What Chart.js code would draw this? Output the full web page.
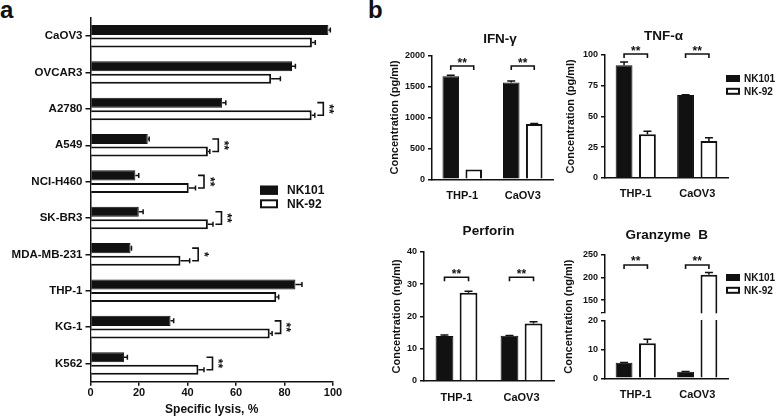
<!DOCTYPE html>
<html>
<head>
<meta charset="utf-8">
<script src="https://cdn.jsdelivr.net/npm/chart.js@4.4.0/dist/chart.umd.min.js"></script>
<style>
  html, body { margin: 0; padding: 0; background: #fff; }
  body { width: 778px; height: 419px; position: relative; overflow: hidden; font-family: 'Liberation Sans', Arial, sans-serif; }
  canvas { position: absolute; }
  .panel { position: absolute; top: -2px; font-size: 24px; font-weight: bold; line-height: 1; color: #111; }
</style>
</head>
<body>
<div class="panel" style="left:0">a</div>
<div class="panel" style="left:368px">b</div>
<canvas id="lysis"></canvas>
<canvas id="ifn"></canvas>
<canvas id="tnf"></canvas>
<canvas id="perforin"></canvas>
<canvas id="granzyme"></canvas>
<script>
const groups = ['NK101', 'NK-92'];

// a: specific lysis, %
const lysisCells = ['CaOV3', 'OVCAR3', 'A2780', 'A549', 'NCI-H460', 'SK-BR3', 'MDA-MB-231', 'THP-1', 'KG-1', 'K562'];
const lysisNK101 = [98.1, 83.1, 54.3, 23.6, 18.5, 19.9, 16.5, 84.5, 33.0, 13.8];
const lysisNK101Err = [0.8, 1.4, 1.5, 0.6, 1.4, 1.8, 0.4, 2.7, 1.3, 1.4];
const lysisNK92 = [91.3, 74.5, 91.2, 48.4, 40.5, 48.4, 37.1, 76.6, 73.9, 44.5];
const lysisNK92Err = [1.4, 3.8, 1.3, 0.8, 2.8, 2.1, 3.8, 1.0, 1.0, 2.3];
const lysisSig = ['', '', '**', '**', '**', '**', '*', '', '**', '**'];
const lysisTicks = [0, 20, 40, 60, 80, 100];

// b: cytokine release
const cytoCells = ['THP-1', 'CaOV3'];

const ifnNK101 = [1666, 1565];
const ifnNK101Err = [14, 25];
const ifnNK92 = [160, 892];
const ifnNK92Err = [0, 11];
const ifnSig = ['**', '**'];
const ifnSigLevel = [1830, 1830];
const ifnTicks = [0, 500, 1000, 1500, 2000];

const tnfNK101 = [91.6, 67.4];
const tnfNK101Err = [2.7, 0.3];
const tnfNK92 = [35.4, 29.9];
const tnfNK92Err = [2.4, 2.7];
const tnfSig = ['**', '**'];
const tnfSigLevel = [100.8, 100.8];
const tnfTicks = [0, 25, 50, 75, 100];

const perfNK101 = [13.9, 14.0];
const perfNK101Err = [0.3, 0.1];
const perfNK92 = [27.3, 17.8];
const perfNK92Err = [0.5, 0.5];
const perfSig = ['**', '**'];
const perfSigLevel = [32.1, 32.1];
const perfTicks = [0, 10, 20, 30, 40];

const grzNK101 = [5.4, 2.3];
const grzNK101Err = [0.1, 0.1];
const grzNK92 = [12.2, 206];
const grzNK92Err = [1.4, 5];
const grzSig = ['**', '**'];
const grzSigLevel = [228, 228];
const grzLowMax = 20;     // lower segment ends here
const grzHighMin = 123;   // upper segment starts here (axis break)
const grzTicks = [0, 10, 20, grzHighMin, 150, 200, 250];

const FAMILY = "'Liberation Sans', Arial, sans-serif";
const INK = '#111';
Chart.defaults.font.family = FAMILY;
Chart.defaults.font.weight = 'bold';
Chart.defaults.color = INK;

// linear scale with a gap between lowMax and highMin
class BrokenLinearScale extends Chart.LinearScale {
  static id = 'brokenLinear';
  static defaults = Chart.LinearScale.defaults;
  getPixelForValue(value) {
    const { low, high, gap } = this.options.brk;
    const seg = (1 - gap) / 2;
    let d;
    if (value <= low) d = (value - this.min) / (low - this.min) * seg;
    else if (value >= high) d = seg + gap + (value - high) / (this.max - high) * seg;
    else d = seg + (value - low) / (high - low) * gap;
    return this.getPixelForDecimal(d);
  }
  getValueForPixel(pixel) {
    const { low, high, gap } = this.options.brk;
    const seg = (1 - gap) / 2;
    const d = this.getDecimalForPixel(pixel);
    if (d <= seg) return this.min + d / seg * (low - this.min);
    if (d >= seg + gap) return high + (d - seg - gap) / seg * (this.max - high);
    return low + (d - seg) / gap * (high - low);
  }
}
Chart.register(BrokenLinearScale);

const errBars = {
  id: 'errBars',
  afterDatasetsDraw(chart, args, opts) {
    const ctx = chart.ctx;
    const horiz = chart.options.indexAxis === 'y';
    const vScale = horiz ? chart.scales.x : chart.scales.y;
    ctx.save();
    ctx.strokeStyle = INK;
    ctx.lineWidth = opts.width;
    chart.data.datasets.forEach((ds, di) => {
      chart.getDatasetMeta(di).data.forEach((el, i) => {
        const err = ds.errors[i];
        if (!err) return;
        const p0 = vScale.getPixelForValue(ds.data[i]);
        const p1 = vScale.getPixelForValue(ds.data[i] + err);
        ctx.beginPath();
        if (horiz) {
          ctx.moveTo(p0, el.y); ctx.lineTo(p1, el.y);
          ctx.moveTo(p1, el.y - opts.cap); ctx.lineTo(p1, el.y + opts.cap);
        } else {
          ctx.moveTo(el.x, p0); ctx.lineTo(el.x, p1);
          ctx.moveTo(el.x - opts.cap, p1); ctx.lineTo(el.x + opts.cap, p1);
        }
        ctx.stroke();
      });
    });
    ctx.restore();
  }
};

const sigMarks = {
  id: 'sigMarks',
  afterDatasetsDraw(chart, args, opts) {
    const ctx = chart.ctx;
    const horiz = chart.options.indexAxis === 'y';
    const [d0, d1] = chart.data.datasets;
    const m0 = chart.getDatasetMeta(0).data;
    const m1 = chart.getDatasetMeta(1).data;
    ctx.save();
    ctx.strokeStyle = INK;
    ctx.fillStyle = INK;
    ctx.lineWidth = 1.6;
    ctx.font = `bold ${opts.size}px ${FAMILY}`;
    ctx.textAlign = 'center';
    opts.marks.forEach((mark, i) => {
      if (!mark) return;
      if (horiz) {
        const xs = chart.scales.x;
        const tip = Math.max(xs.getPixelForValue(d0.data[i] + d0.errors[i]),
                             xs.getPixelForValue(d1.data[i] + d1.errors[i]));
        const xb = tip + opts.gap;
        const y0 = m0[i].y, y1 = m1[i].y;
        ctx.beginPath();
        ctx.moveTo(xb - opts.tick, y0); ctx.lineTo(xb, y0);
        ctx.lineTo(xb, y1); ctx.lineTo(xb - opts.tick, y1);
        ctx.stroke();
        ctx.save();
        ctx.translate(xb + opts.textGap, (y0 + y1) / 2);
        ctx.rotate(Math.PI / 2);
        ctx.textBaseline = 'middle';
        ctx.fillText(mark, 0, 0);
        ctx.restore();
      } else {
        const yb = chart.scales.y.getPixelForValue(opts.levels[i]);
        const x0 = m0[i].x, x1 = m1[i].x;
        ctx.beginPath();
        ctx.moveTo(x0, yb + opts.tick); ctx.lineTo(x0, yb);
        ctx.lineTo(x1, yb); ctx.lineTo(x1, yb + opts.tick);
        ctx.stroke();
        ctx.textBaseline = 'alphabetic';
        ctx.fillText(mark, (x0 + x1) / 2, yb + opts.textGap);
      }
    });
    ctx.restore();
  }
};

const boxLegend = {
  id: 'boxLegend',
  afterDraw(chart, args, opts) {
    const ctx = chart.ctx;
    ctx.save();
    ctx.font = `bold ${opts.size}px ${FAMILY}`;
    ctx.textAlign = 'left';
    ctx.textBaseline = 'middle';
    chart.data.datasets.forEach((ds, i) => {
      const y = opts.y + i * opts.step;
      const lw = Math.min(ds.borderWidth, 2);
      ctx.fillStyle = ds.backgroundColor;
      ctx.fillRect(opts.x, y, opts.w, opts.h);
      ctx.lineWidth = lw;
      ctx.strokeStyle = ds.borderColor;
      ctx.strokeRect(opts.x + lw / 2, y + lw / 2, opts.w - lw, opts.h - lw);
      ctx.fillStyle = INK;
      ctx.fillText(ds.label, opts.textX, y + opts.h / 2 + 0.5);
    });
    ctx.restore();
  }
};

const panelTitle = {
  id: 'panelTitle',
  afterDraw(chart, args, opts) {
    const ctx = chart.ctx;
    ctx.save();
    ctx.font = `bold ${opts.size}px ${FAMILY}`;
    ctx.fillStyle = INK;
    ctx.textAlign = 'center';
    ctx.textBaseline = 'middle';
    ctx.fillText(opts.text, opts.x, opts.y);
    ctx.restore();
  }
};

const axisBreak = {
  id: 'axisBreak',
  afterDatasetsDraw(chart, args, opts) {
    const ys = chart.scales.y;
    const a = chart.chartArea;
    const top = ys.getPixelForValue(opts.to) + 1;
    const bottom = ys.getPixelForValue(opts.from) - 1;
    chart.ctx.save();
    chart.ctx.fillStyle = '#fff';
    chart.ctx.fillRect(a.left - 3, top, a.right - a.left + 3, bottom - top);
    chart.ctx.restore();
  }
};

// place a canvas in page coords and work out the margins round its plot area
function frame(id, box, plot) {
  const cv = document.getElementById(id);
  cv.style.left = box[0] + 'px';
  cv.style.top = box[1] + 'px';
  cv.width = box[2];
  cv.height = box[3];
  cv.style.width = box[2] + 'px';
  cv.style.height = box[3] + 'px';
  return {
    cv, ox: box[0], oy: box[1],
    l: plot[0] - box[0], t: plot[1] - box[1],
    r: box[0] + box[2] - plot[2], b: box[1] + box[3] - plot[3]
  };
}

const axisGrid = (len) => ({ display: true, drawOnChartArea: false, tickLength: len, color: INK, lineWidth: 1.5, tickWidth: 1.5 });
const axisBorder = { display: true, color: INK, width: 1.5 };

// ---- panel a ----
const fa = frame('lysis', [0, 0, 372, 419], [90.5, 18, 333, 381.7]);
new Chart(fa.cv, {
  type: 'bar',
  data: {
    labels: lysisCells,
    datasets: [
      { label: groups[0], data: lysisNK101, errors: lysisNK101Err, backgroundColor: INK, borderColor: INK, borderWidth: 1, barPercentage: 0.8, categoryPercentage: 0.69 },
      { label: groups[1], data: lysisNK92, errors: lysisNK92Err, backgroundColor: '#fff', borderColor: INK, borderWidth: 2, barPercentage: 0.8, categoryPercentage: 0.69 }
    ]
  },
  options: {
    indexAxis: 'y',
    responsive: false,
    animation: false,
    events: [],
    layout: { padding: { left: 0, top: fa.t, right: fa.r, bottom: 0 } },
    plugins: {
      legend: { display: false },
      tooltip: { enabled: false },
      errBars: { cap: 2.5, width: 1.5 },
      sigMarks: { marks: lysisSig, gap: 8.5, tick: 6, textGap: 5, size: 12 },
      boxLegend: { x: 260, y: 185.7, step: 13.6, w: 18, h: 9, textX: 287, size: 12 }
    },
    scales: {
      x: {
        type: 'linear', min: 0, max: 100, bounds: 'data',
        afterBuildTicks: s => { s.ticks = lysisTicks.map(v => ({ value: v })); },
        afterFit: s => { s.height = fa.b; },
        grid: axisGrid(4),
        border: axisBorder,
        ticks: { font: { size: 11 }, padding: 1, color: INK, maxRotation: 0 },
        title: { display: true, text: 'Specific lysis, %', font: { size: 12 }, color: INK, padding: { top: 0, bottom: 1.8 } }
      },
      y: {
        type: 'category',
        afterFit: s => { s.width = fa.l; },
        grid: Object.assign(axisGrid(5), { offset: false }),
        border: axisBorder,
        ticks: { font: { size: 11.5 }, padding: 3, color: INK }
      }
    }
  },
  plugins: [errBars, sigMarks, boxLegend]
});

// ---- panel b ----
function cytokineChart(id, box, plot, c) {
  const f = frame(id, box, plot);
  const size = { barPercentage: c.barPct, categoryPercentage: c.catPct };
  const plugins = [errBars, sigMarks, panelTitle];
  if (c.legend) plugins.push(boxLegend);
  if (c.brk) plugins.unshift(axisBreak);
  const yScale = {
    type: c.brk ? 'brokenLinear' : 'linear',
    min: c.ticks[0], max: c.ticks[c.ticks.length - 1], bounds: 'data',
    afterBuildTicks: s => { s.ticks = c.ticks.map(v => ({ value: v })); },
    afterFit: s => { s.width = f.l; },
    grid: axisGrid(4),
    border: axisBorder,
    ticks: { font: { size: 9 }, padding: 3, color: INK, autoSkip: false,
             callback: v => (c.brk && v === c.brk.high) ? '' : String(v) },
    title: { display: true, text: c.yTitle, font: { size: 11 }, color: INK, padding: { top: c.yTitleX - f.ox - 6.6, bottom: 0 } }
  };
  if (c.brk) yScale.brk = c.brk;
  return new Chart(f.cv, {
    type: 'bar',
    data: {
      labels: cytoCells,
      datasets: [
        Object.assign({ label: groups[0], data: c.nk101, errors: c.nk101Err, backgroundColor: INK, borderColor: INK, borderWidth: 1 }, size),
        Object.assign({ label: groups[1], data: c.nk92, errors: c.nk92Err, backgroundColor: '#fff', borderColor: INK, borderWidth: 2 }, size)
      ]
    },
    options: {
      responsive: false,
      animation: false,
      events: [],
      layout: { padding: { left: 0, top: f.t, right: f.r, bottom: 0 } },
      plugins: {
        legend: { display: false },
        tooltip: { enabled: false },
        errBars: { cap: 4, width: 1.5 },
        sigMarks: { marks: c.sig, levels: c.sigLevel, tick: 4, textGap: 0.5, size: 12 },
        panelTitle: { text: c.title, x: c.titleX - f.ox, y: c.titleY - f.oy, size: 13.5 },
        boxLegend: c.legend ? { x: 726 - f.ox, y: c.legend - f.oy, step: 12.8, w: 14, h: 7, textX: 744 - f.ox, size: 10 } : false,
        axisBreak: c.brk ? { from: c.brk.low, to: c.brk.high } : false
      },
      scales: {
        x: {
          afterFit: s => { s.height = f.b; },
          grid: { display: false },
          border: axisBorder,
          ticks: { font: { size: 11 }, padding: 2, color: INK }
        },
        y: yScale
      }
    },
    plugins
  });
}

cytokineChart('ifn', [383, 18, 177, 190], [432, 55.5, 553, 179.3], {
  nk101: ifnNK101, nk101Err: ifnNK101Err, nk92: ifnNK92, nk92Err: ifnNK92Err,
  sig: ifnSig, sigLevel: ifnSigLevel, ticks: ifnTicks,
  title: 'IFN-γ', titleX: 500, titleY: 39.3,
  yTitle: 'Concentration (pg/ml)', yTitleX: 395,
  barPct: 0.72, catPct: 0.76
});

cytokineChart('tnf', [560, 18, 218, 190], [605, 55, 728, 177.7], {
  nk101: tnfNK101, nk101Err: tnfNK101Err, nk92: tnfNK92, nk92Err: tnfNK92Err,
  sig: tnfSig, sigLevel: tnfSigLevel, ticks: tnfTicks,
  title: 'TNF-α', titleX: 663.5, titleY: 36,
  yTitle: 'Concentration (pg/ml)', yTitleX: 571,
  barPct: 0.72, catPct: 0.76,
  legend: 75
});

cytokineChart('perforin', [383, 215, 177, 200], [424, 251.7, 554, 381], {
  nk101: perfNK101, nk101Err: perfNK101Err, nk92: perfNK92, nk92Err: perfNK92Err,
  sig: perfSig, sigLevel: perfSigLevel, ticks: perfTicks,
  title: 'Perforin', titleX: 488.5, titleY: 231.7,
  yTitle: 'Concentration (ng/ml)', yTitleX: 396.7,
  barPct: 0.74, catPct: 0.74
});

cytokineChart('granzyme', [560, 215, 218, 200], [605, 255, 728, 378.3], {
  nk101: grzNK101, nk101Err: grzNK101Err, nk92: grzNK92, nk92Err: grzNK92Err,
  sig: grzSig, sigLevel: grzSigLevel, ticks: grzTicks,
  title: 'Granzyme  B', titleX: 666.7, titleY: 235,
  yTitle: 'Concentration (ng/ml)', yTitleX: 569,
  barPct: 0.72, catPct: 0.76,
  legend: 274,
  brk: { low: grzLowMax, high: grzHighMin, gap: 0.0706 }
});
</script>
</body>
</html>
